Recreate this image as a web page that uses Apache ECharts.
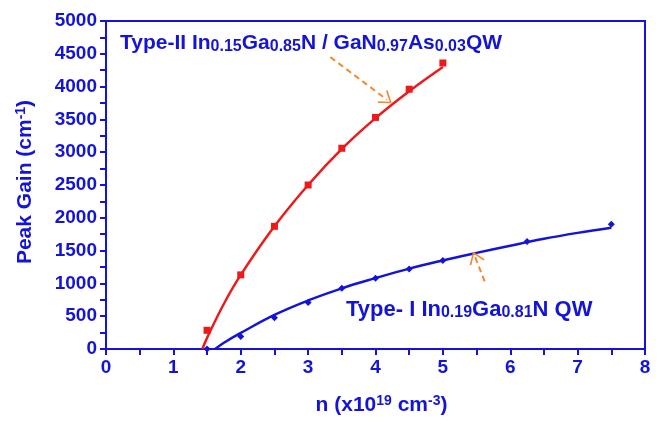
<!DOCTYPE html>
<html>
<head>
<meta charset="utf-8">
<script src="https://cdn.jsdelivr.net/npm/echarts@6/dist/echarts.min.js"></script>
<style>
  html,body{margin:0;padding:0;background:#fff;}
  #chart{width:657px;height:424px;}
</style>
</head>
<body>
<div id="chart"></div>
<script>
// measured points
const nValues = [1.5, 2.0, 2.5, 3.0, 3.5, 4.0, 4.5, 5.0];
const type2Gain = [285, 1130, 1870, 2500, 3060, 3530, 3960, 4360];
const type1N = [1.5, 2.0, 2.5, 3.0, 3.5, 4.0, 4.5, 5.0, 6.25, 7.5];
const type1Gain = [0, 190, 475, 710, 925, 1080, 1220, 1350, 1640, 1900];

// fitted curves
const type2FitN = [1.43, 1.5, 1.75, 2.0, 2.5, 3.0, 3.5, 4.0, 4.5, 5.0];
const type2FitGain = [0, 170, 690, 1130, 1870, 2500, 3050, 3520, 3930, 4300];
const type1FitN = [1.62, 1.75, 2.0, 2.5, 3.0, 3.5, 4.0, 4.5, 5.0, 5.5, 6.0, 6.5, 7.0, 7.5];
const type1FitGain = [0, 95, 245, 520, 740, 925, 1080, 1225, 1350, 1465, 1575, 1680, 1770, 1850];

// annotation arrows [fromN, fromGain, toN, toGain]
const arrowType2 = [3.33, 4450, 4.17, 3800];
const arrowType1 = [5.62, 1030, 5.48, 1400];

const yTicks = [0, 5000, 500];
const xTicks = [0, 8, 1];

const BLUE = '#1414d8';
const RED = '#ee1a1a';
const ORANGE = '#f2892e';
const FONT = '"Liberation Sans", Arial, sans-serif';

const zip = (a, b) => a.map((v, i) => [v, b[i]]);
const chevron = 'path://M10,0 L20,17 L18,18 L10,4 L2,18 L0,17 Z';

const mainT = {fontSize: 21, fontWeight: 'bold', fontFamily: FONT, lineHeight: 22, verticalAlign: 'top'};
const subT = {fontSize: 16, fontWeight: 'bold', fontFamily: FONT, lineHeight: 18, padding: [11, 0, 0, 0], verticalAlign: 'bottom'};

const nameRich = {
  m: {color: BLUE, fontSize: 21, fontWeight: 'bold', fontFamily: FONT, lineHeight: 22, verticalAlign: 'bottom'},
  sup: {color: BLUE, fontSize: 14, fontWeight: 'bold', fontFamily: FONT, lineHeight: 15, padding: [0, 0, 11, 0], verticalAlign: 'top'}
};

const chart = echarts.init(document.getElementById('chart'), null, {renderer: 'canvas'});
const option = {
  backgroundColor: '#fff',
  animation: false,
  grid: {left: 106, right: 12, top: 21, bottom: 69, show: true, borderColor: BLUE, borderWidth: 2, backgroundColor: 'transparent'},
  xAxis: {
    type: 'value', min: xTicks[0], max: xTicks[1], interval: xTicks[2],
    axisLine: {lineStyle: {color: BLUE, width: 2}},
    axisTick: {length: 6, lineStyle: {color: BLUE, width: 2}},
    minorTick: {show: true, splitNumber: 2, length: 6, lineStyle: {color: BLUE, width: 2}},
    splitLine: {show: false},
    axisLabel: {color: BLUE, fontSize: 19, fontWeight: 'bold', fontFamily: FONT, margin: 9},
    name: '{m|n (x10}{sup|19}{m| cm}{sup|-3}{m|)}',
    nameLocation: 'middle', nameGap: 45,
    nameTextStyle: {color: BLUE, rich: nameRich, padding: [0, 0, 0, 12]}
  },
  yAxis: {
    type: 'value', min: yTicks[0], max: yTicks[1], interval: yTicks[2],
    axisLine: {lineStyle: {color: BLUE, width: 2}},
    axisTick: {length: 6, lineStyle: {color: BLUE, width: 2}},
    minorTick: {show: true, splitNumber: 2, length: 6, lineStyle: {color: BLUE, width: 2}},
    splitLine: {show: false},
    axisLabel: {color: BLUE, fontSize: 19, fontWeight: 'bold', fontFamily: FONT, margin: 9, formatter: v => String(v)},
    name: '{m|Peak Gain (cm}{sup|-1}{m|)}',
    nameLocation: 'middle', nameGap: 70,
    nameTextStyle: {color: BLUE, rich: nameRich, padding: [0, 0, 0, 6]}
  },
  series: [
    {
      name: 'type2fit', type: 'line', data: zip(type2FitN, type2FitGain), smooth: 0.4,
      showSymbol: false, lineStyle: {color: RED, width: 2.5}, z: 2
    },
    {
      name: 'type2', type: 'line', data: zip(nValues, type2Gain),
      symbol: 'rect', symbolSize: 7, itemStyle: {color: RED}, lineStyle: {width: 0}, z: 3
    },
    {
      name: 'type1fit', type: 'line', data: zip(type1FitN, type1FitGain), smooth: 0.4,
      showSymbol: false, lineStyle: {color: BLUE, width: 2.5}, z: 2
    },
    {
      name: 'type1', type: 'line', data: zip(type1N, type1Gain),
      symbol: 'diamond', symbolSize: 7, itemStyle: {color: BLUE}, lineStyle: {width: 0}, z: 3
    },
    {
      name: 'arrows', type: 'line', data: [], silent: true,
      markLine: {
        silent: true, animation: false,
        symbol: ['none', chevron], symbolSize: [16, 12],
        label: {show: false},
        lineStyle: {color: ORANGE, width: 2, type: [6, 4]},
        itemStyle: {color: ORANGE},
        data: [
          [{coord: [arrowType2[0], arrowType2[1]]}, {coord: [arrowType2[2], arrowType2[3]]}],
          [{coord: [arrowType1[0], arrowType1[1]]}, {coord: [arrowType1[2], arrowType1[3]]}]
        ]
      }
    }
  ],
  graphic: [
    {
      type: 'text', left: 120, top: 28, z: 10,
      style: {
        text: '{m|Type-II In}{s|0.15}{m|Ga}{s|0.85}{m|N / GaN}{s|0.97}{m|As}{s|0.03}{m|QW}',
        fill: BLUE,
        rich: {m: Object.assign({fill: BLUE}, mainT), s: Object.assign({fill: BLUE}, subT)}
      }
    },
    {
      type: 'text', left: 346, top: 294, z: 10,
      style: {
        text: '{m|Type- I In}{s|0.19}{m|Ga}{s|0.81}{m|N QW}',
        fill: BLUE,
        rich: {m: Object.assign({fill: BLUE}, mainT, {fontSize: 22}), s: Object.assign({fill: BLUE}, subT)}
      }
    }
  ]
};
chart.setOption(option);
</script>
</body>
</html>
